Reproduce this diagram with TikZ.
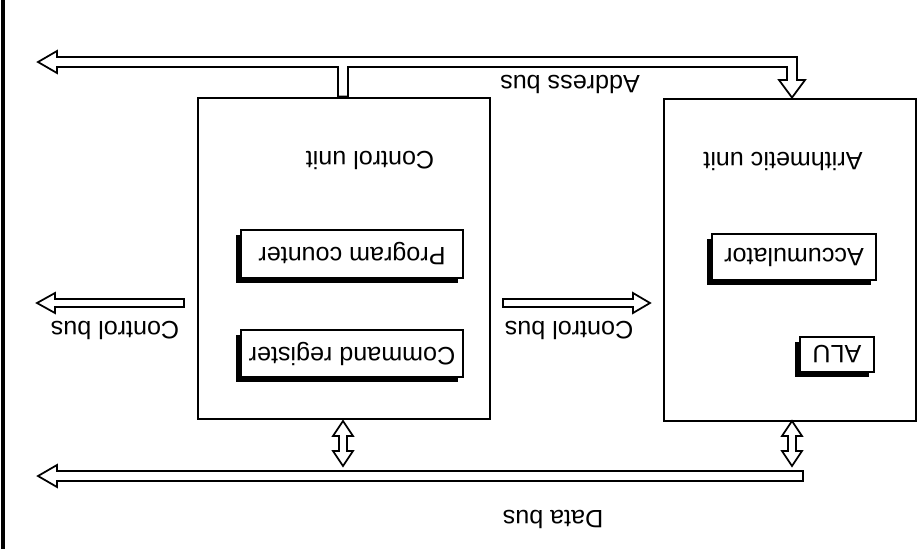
\documentclass[tikz,border=0pt]{standalone}
\usepackage{fontspec}
\setmainfont{Liberation Sans}
\begin{document}
\begin{tikzpicture}[x=0.02cm,y=-0.02cm,
  unitbox/.style={draw,line width=1.6pt,inner sep=0pt,fill=white},
  regbox/.style={draw,line width=1pt,inner sep=0pt,fill=white},
  lbl/.style={rotate=180,font=\fontsize{14.3}{17}\selectfont,inner sep=0pt},
  bus/.style={draw,line width=1pt,fill=white,line join=miter}]
\useasboundingbox (0,0) rectangle (922,549);
\draw[line width=2.2pt] (3,0) -- (3,549);
% units
\node[unitbox,minimum width=292*0.02cm,minimum height=321*0.02cm] (cu) at (344,258.5) {};
\node[unitbox,minimum width=252*0.02cm,minimum height=322*0.02cm] (au) at (790,260) {};
\node[lbl] (cul) at (370,160) {Control unit};
\node[lbl] (aul) at (783,161) {Arithmetic unit};
% registers with shadow
\foreach \n/\cx/\cy/\w/\h/\t in {pc/352/254/222/48/{Program counter},cr/352/353.5/222/47/{Command register},acc/794/257/164/46/{Accumulator},alu/837/354.5/74/35/{ALU}}{
  \fill (\cx-\w/2-5,\cy-\h/2+5) rectangle (\cx+\w/2-5,\cy+\h/2+5);
  \node[regbox,minimum width=\w*0.02cm,minimum height=\h*0.02cm] (\n) at (\cx,\cy) {};
  \node[lbl] at (\n) {\t};
}
% address bus
\coordinate (abT) at (38,62);
\draw[bus] (abT) -- (57,51) -- (57,57) -- (797,57) -- (797,80) -- (805,80) -- (au.north -| 792,0) -- (779,80) -- (787,80) -- (787,67)
  -- (348,67) -- (348,0 |- cu.north) -- (338,0 |- cu.north) -- (338,67) -- (57,67) -- (57,73) -- cycle;
\node[lbl] (abl) at (570,84) {Address bus};
% data bus
\coordinate (dbT) at (38,476);
\draw[bus] (dbT) -- (57,465) -- (57,471) -- (803,471) -- (803,481) -- (57,481) -- (57,487) -- cycle;
\node[lbl] (dbl) at (553,519) {Data bus};
% double arrows data bus <-> units
\foreach \x/\u in {343/cu,792/au}{
  \draw[bus] (\x,421) -- (\x+10,436) -- (\x+4,436) -- (\x+4,451) -- (\x+10,451) -- (\x,466)
    -- (\x-10,451) -- (\x-4,451) -- (\x-4,436) -- (\x-10,436) -- cycle;
}
% control bus left
\draw[bus] (37,303) -- (55,293) -- (55,299) -- (184,299) -- (184,307) -- (55,307) -- (55,313) -- cycle;
\node[lbl] (cbl1) at (115,330) {Control bus};
% control bus middle
\draw[bus] (650,303) -- (633,293) -- (633,299) -- (503,299) -- (503,307) -- (633,307) -- (633,313) -- cycle;
\node[lbl] (cbl2) at (569,330) {Control bus};
\end{tikzpicture}
\end{document}
